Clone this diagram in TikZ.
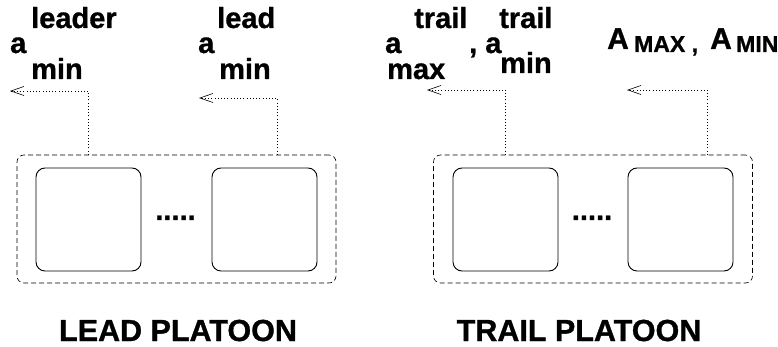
\documentclass[tikz,border=0pt]{standalone}
\usepackage{fontspec}
\setmainfont{Liberation Sans}[FakeBold=1]
\usetikzlibrary{arrows.meta}

\tikzset{
  txt/.style={font=\fontsize{29}{29}\selectfont\bfseries, inner sep=0pt, anchor=base west},
  captxt/.style={font=\fontsize{30}{30}\selectfont\bfseries, inner sep=0pt, anchor=base west},
  subtxt/.style={font=\fontsize{23}{23}\selectfont\bfseries, inner sep=0pt, anchor=base west},
  title/.style={font=\fontsize{30.5}{30.5}\selectfont\bfseries, inner sep=0pt, anchor=base},
  car/.style={draw, line width=0.9pt, rounded corners=9pt, minimum width=105pt, minimum height=103pt},
  platoon/.style={draw, dash pattern=on 5pt off 3pt, line width=0.6pt, rounded corners=7pt, minimum width=319pt, minimum height=128pt},
  link/.style={dash pattern=on 0.8pt off 2.4pt, line width=0.8pt, -{Straight Barb[length=13pt, width=9pt, line width=0.6pt]}}
}

\begin{document}
\begin{tikzpicture}[x=1pt, y=-1pt]
\useasboundingbox (0,0) rectangle (778,347);

% lead platoon
\node[platoon] (leadbox) at (176.5,219) {};
\node[car] (lead1) at (88.5,219.5) {};
\node[car] (lead2) at (264.5,219.5) {};
\node[txt, anchor=base] (leaddots) at (175.5,220) {.....};
\node[title] (leadname) at (178,341) {LEAD PLATOON};

% trail platoon
\node[platoon] (trailbox) at (593,219) {};
\node[car] (trail1) at (505.5,219.5) {};
\node[car] (trail2) at (680.5,219.5) {};
\node[txt, anchor=base] (traildots) at (592,220) {.....};
\node[title] (trailname) at (579,341) {TRAIL PLATOON};

% labels
\node[txt] (a1) at (10,53) {a};
\node[txt] (a1sup) at (31,28) {leader};
\node[txt] (a1sub) at (31,79) {min};
\node[txt] (a2) at (198,53) {a};
\node[txt] (a2sup) at (217,28) {lead};
\node[txt] (a2sub) at (219,79) {min};
\node[txt] (a3) at (385,53) {a};
\node[txt] (a3sup) at (414,28) {trail};
\node[txt] (a3sub) at (387,79) {max};
\node[txt] (a4) at (469,53) {, a};
\node[txt] (a4sup) at (499,28) {trail};
\node[txt] (a4sub) at (500,73) {min};
\node[captxt] (amax) at (607,49) {A};
\node[subtxt] (amaxsub) at (634,52) {MAX ,};
\node[captxt] (amin) at (710,49) {A};
\node[subtxt] (aminsub) at (736,52) {MIN};

% connectors
\coordinate (c1) at (10,91);
\draw[link] (leadbox.north -| lead1) |- (c1);
\coordinate (k2) at (277,98);
\coordinate (c2) at (199,98);
\draw[link] (leadbox.north -| k2) -- (k2) -- (c2);
\coordinate (c3) at (427,90);
\draw[link] (trailbox.north -| trail1) |- (c3);
\coordinate (k4) at (707,90);
\coordinate (c4) at (627,90);
\draw[link] (trailbox.north -| k4) -- (k4) -- (c4);
\end{tikzpicture}
\end{document}
